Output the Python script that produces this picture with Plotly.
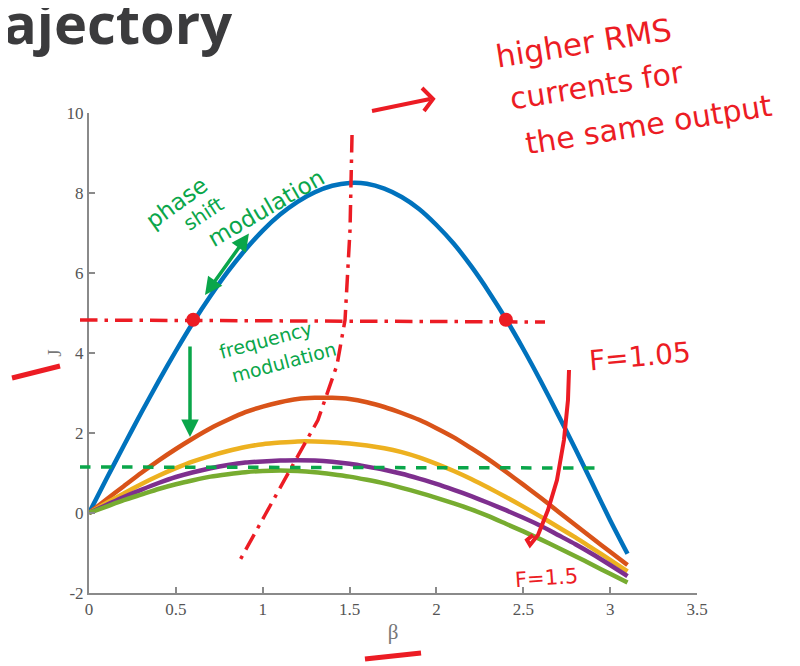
import plotly.graph_objects as go

# ---------------- data ----------------
beta = [0.0, 0.1, 0.2, 0.3, 0.4, 0.5, 0.6, 0.7, 0.8, 0.9, 1.0, 1.1, 1.2, 1.3, 1.4, 1.5,
        1.6, 1.7, 1.8, 1.9, 2.0, 2.1, 2.2, 2.3, 2.4, 2.5, 2.6, 2.7, 2.8, 2.9, 3.0, 3.1]

J_F105 = [0, 0.85, 1.68, 2.50, 3.29, 4.05, 4.77, 5.43, 6.04, 6.58, 7.06, 7.46, 7.78, 8.02, 8.18, 8.25,
          8.23, 8.11, 7.90, 7.60, 7.20, 6.73, 6.17, 5.54, 4.85, 4.10, 3.30, 2.46, 1.60, 0.71, -0.18, -1.02]
J_F12 = [0, 0.34, 0.67, 1.00, 1.31, 1.60, 1.87, 2.12, 2.33, 2.52, 2.66, 2.77, 2.85, 2.88, 2.88, 2.85,
         2.77, 2.65, 2.50, 2.33, 2.12, 1.89, 1.62, 1.34, 1.03, 0.71, 0.38, 0.04, -0.30, -0.64, -0.97, -1.30]
J_F13 = [0, 0.25, 0.49, 0.72, 0.93, 1.12, 1.29, 1.43, 1.55, 1.65, 1.72, 1.76, 1.79, 1.79, 1.77, 1.74,
         1.69, 1.62, 1.52, 1.39, 1.23, 1.05, 0.85, 0.63, 0.40, 0.16, -0.09, -0.35, -0.61, -0.89, -1.17, -1.46]
J_F14 = [0, 0.20, 0.40, 0.58, 0.75, 0.90, 1.02, 1.12, 1.20, 1.26, 1.29, 1.31, 1.32, 1.31, 1.28, 1.23,
         1.16, 1.08, 0.98, 0.86, 0.73, 0.58, 0.42, 0.25, 0.07, -0.12, -0.32, -0.55, -0.78, -1.03, -1.30, -1.58]
J_F15 = [0, 0.16, 0.32, 0.46, 0.60, 0.72, 0.82, 0.91, 0.97, 1.02, 1.05, 1.06, 1.05, 1.02, 0.97, 0.91,
         0.83, 0.74, 0.63, 0.51, 0.38, 0.24, 0.09, -0.08, -0.27, -0.46, -0.66, -0.87, -1.08, -1.30, -1.52, -1.74]

series = [J_F105, J_F12, J_F13, J_F14, J_F15]
colors = ["#0072BD", "#D95319", "#EDB120", "#7E2F8E", "#77AC30"]

marked_beta = [0.6, 2.4]
marked_J = [4.83, 4.83]

x_ticks = [0, 0.5, 1, 1.5, 2, 2.5, 3, 3.5]
x_ticklabels = ["0", "0.5", "1", "1.5", "2", "2.5", "3", "3.5"]
y_ticks = [-2, 0, 2, 4, 6, 8, 10]
y_ticklabels = ["-2", "0", "2", "4", "6", "8", "10"]

# ---------------- layout geometry ----------------
W, H = 800, 666
OFF = 8                      # default page (body) margin of the html page
L, R, T, B = 89, 697, 113, 593   # plot area in screen pixels


def P(x, y):
    """screen pixel -> paper coords"""
    return (x - L) / (R - L), (B - y) / (B - T)


def path(points, closed=False):
    s = ""
    for i, (x, y) in enumerate(points):
        px, py = P(x, y)
        s += ("M" if i == 0 else "L") + f"{px:.4f},{py:.4f} "
    if closed:
        s += "Z"
    return s


RED = "#ec1c24"
GREEN = "#0aa64a"

fig = go.Figure()
for ys, c in zip(series, colors):
    fig.add_trace(go.Scatter(x=beta, y=ys, mode="lines",
                             line=dict(color=c, width=4.5, shape="spline", smoothing=0.6),
                             showlegend=False, hoverinfo="skip"))

fig.add_trace(go.Scatter(x=marked_beta, y=marked_J, mode="markers",
                         marker=dict(color=RED, size=14), showlegend=False, hoverinfo="skip"))

tickfont = dict(family="Liberation Serif", size=17, color="#555555")
fig.update_layout(
    width=W, height=H,
    margin=dict(l=L - OFF, r=W - R + OFF, t=T - OFF, b=H - B + OFF, autoexpand=False),
    paper_bgcolor="white", plot_bgcolor="white",
    xaxis=dict(range=[0, 3.5], tickvals=x_ticks, ticktext=x_ticklabels,
               showline=True, linecolor="#8a8a8a", linewidth=2,
               ticks="inside", ticklen=6, tickcolor="#8a8a8a", tickwidth=1.5,
               showgrid=False, zeroline=False, tickfont=tickfont,
               title=dict(text="β", font=dict(family="Liberation Serif", size=21, color="#777777"), standoff=6)),
    yaxis=dict(range=[-2, 10], tickvals=y_ticks, ticktext=y_ticklabels,
               showline=True, linecolor="#8a8a8a", linewidth=2,
               ticks="inside", ticklen=6, tickcolor="#8a8a8a", tickwidth=1.5,
               showgrid=False, zeroline=False, tickfont=tickfont,
               title=dict(text="J", font=dict(family="Liberation Serif", size=19, color="#777777"), standoff=0)),
)

shapes = []
# red dash-dot horizontal
shapes.append(dict(type="path", xref="paper", yref="paper",
                   path=path([(80, 320), (545, 322)]),
                   line=dict(color=RED, width=3.5, dash="longdashdot")))
# red vertical (bending) dash-dot
shapes.append(dict(type="path", xref="paper", yref="paper",
                   path=path([(352, 135), (350, 230), (345, 320), (337, 365), (318, 420),
                              (290, 470), (265, 515), (240, 560)]),
                   line=dict(color=RED, width=3.5, dash="longdashdot")))
# green dashed horizontal
shapes.append(dict(type="path", xref="paper", yref="paper",
                   path=path([(80, 467), (600, 468)]),
                   line=dict(color=GREEN, width=3.5, dash="dash")))
# red arrow at top
shapes.append(dict(type="path", xref="paper", yref="paper",
                   path=path([(372, 111), (430, 99)]),
                   line=dict(color=RED, width=4)))
shapes.append(dict(type="path", xref="paper", yref="paper",
                   path=path([(422, 88), (433, 99), (424, 111)]),
                   line=dict(color=RED, width=4)))
# red curved arrow F=1.05 -> F=1.5
shapes.append(dict(type="path", xref="paper", yref="paper",
                   path=path([(569, 370), (568, 400), (564, 440), (557, 480), (548, 510),
                              (538, 535), (530, 545), (527, 540), (533, 535)]),
                   line=dict(color=RED, width=4)))
# red strokes near axis titles
shapes.append(dict(type="path", xref="paper", yref="paper",
                   path=path([(12, 378), (60, 366)]), line=dict(color=RED, width=5)))
shapes.append(dict(type="path", xref="paper", yref="paper",
                   path=path([(365, 659), (421, 653)]), line=dict(color=RED, width=5)))
fig.update_layout(shapes=shapes)

ann = []
# title fragment (cut off at the top in the source screenshot)
x0, y0 = P(1, 22)
ann.append(dict(text="<b>ajectory</b>", x=x0, y=y0, xref="paper", yref="paper",
                xanchor="left", yanchor="middle", showarrow=False,
                font=dict(family="Open Sans", size=56, color="#3b3b3d")))


def txt(s, x, y, size, color, angle=0):
    px, py = P(x, y)
    ann.append(dict(text=s, x=px, y=py, xref="paper", yref="paper", xanchor="center",
                    yanchor="middle", showarrow=False, textangle=angle,
                    font=dict(family="DejaVu Sans", size=size, color=color)))


txt("higher RMS", 583, 43, 31, RED, -9)
txt("currents for", 596, 85, 30, RED, -9)
txt("the same output", 648, 124, 30, RED, -9)
txt("F=1.05", 640, 356, 28, RED, -5)
txt("F=1.5", 546, 578, 21, RED, -4)
txt("phase", 176, 203, 23, GREEN, -36)
txt("shift", 203, 214, 20, GREEN, -33)
txt("modulation", 266, 208, 23, GREEN, -30)
txt("frequency", 265, 340, 19, GREEN, -15)
txt("modulation", 284, 362, 19, GREEN, -15)

# green arrows
tx, ty = P(190, 437)
ann.append(dict(x=tx, y=ty, xref="paper", yref="paper", ax=0, ay=-92, text="",
                showarrow=True, arrowhead=2, arrowsize=1, arrowwidth=3.5, arrowcolor=GREEN))
tx, ty = P(205, 295)
ann.append(dict(x=tx, y=ty, xref="paper", yref="paper", ax=45, ay=-63, text="",
                showarrow=True, arrowhead=2, startarrowhead=2, arrowside="end+start",
                arrowsize=1, arrowwidth=3.5, arrowcolor=GREEN))
fig.update_layout(annotations=ann)

fig.write_html("out.html")
